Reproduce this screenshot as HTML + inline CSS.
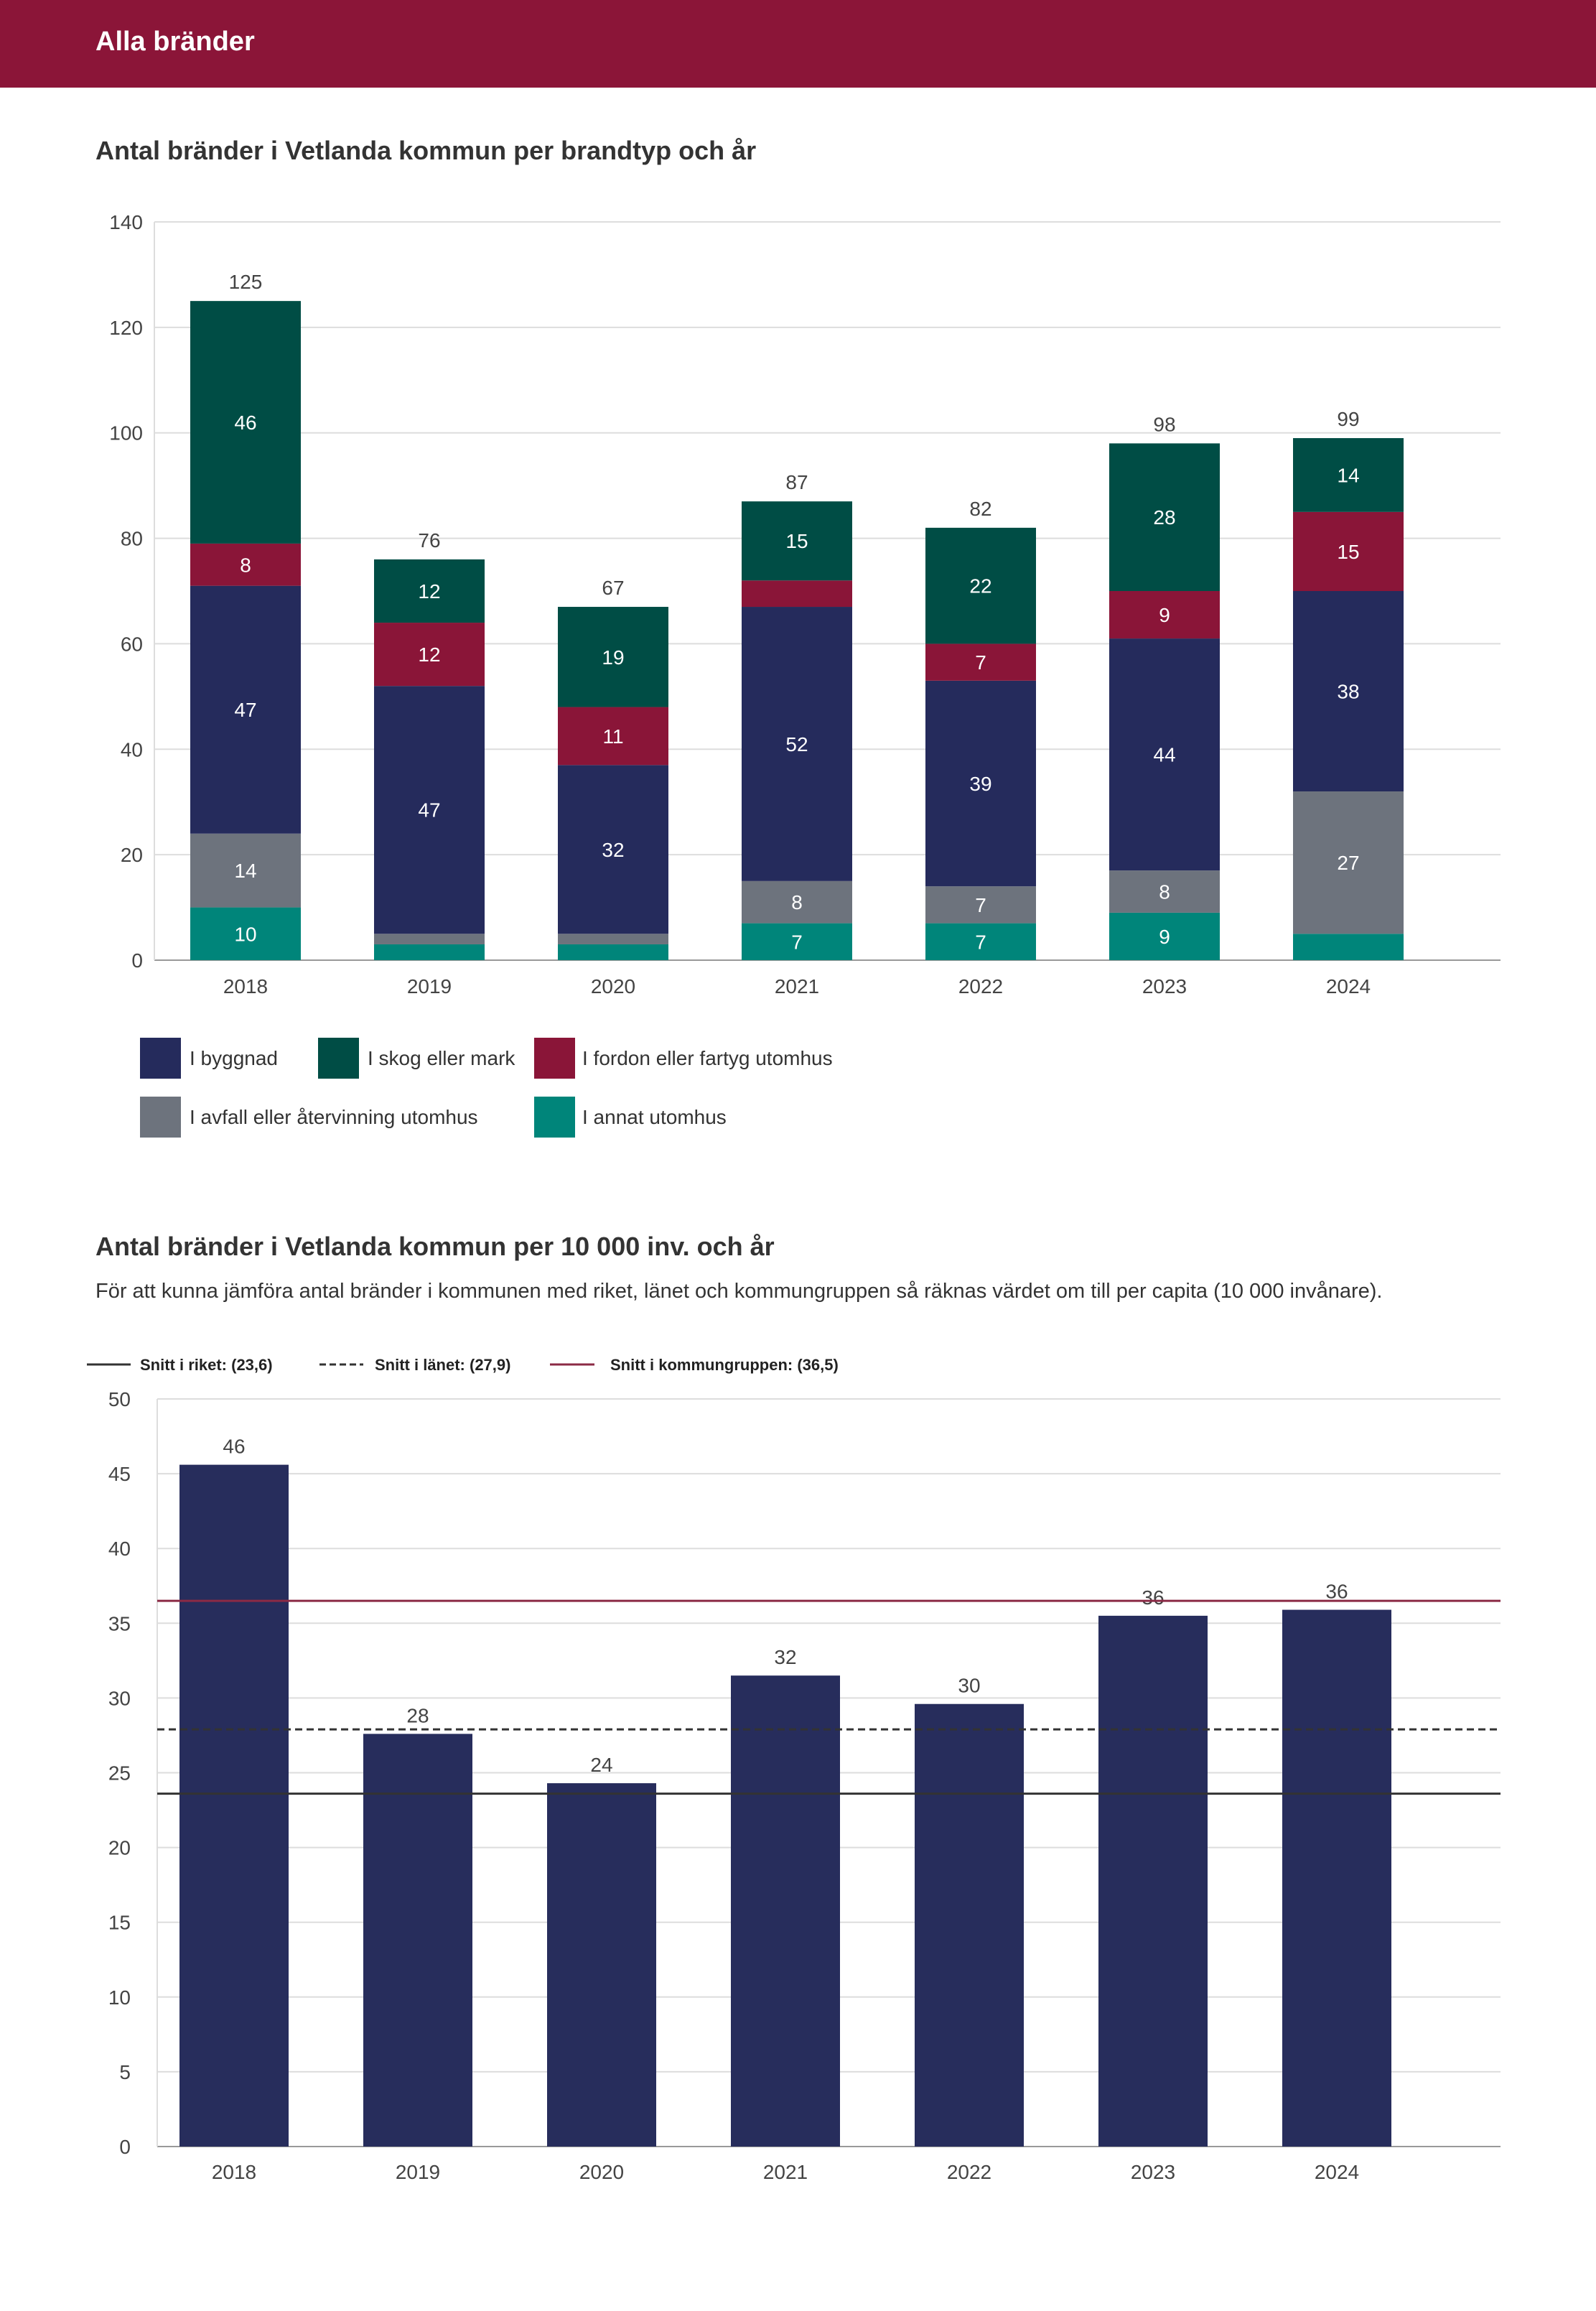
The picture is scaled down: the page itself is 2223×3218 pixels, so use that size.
<!DOCTYPE html>
<html><head><meta charset="utf-8"><style>
html,body{margin:0;padding:0;background:#fff;}
body{width:2223px;height:3213px;overflow:hidden;font-family:"Liberation Sans",sans-serif;}
svg text{font-family:"Liberation Sans",sans-serif;}
</style></head><body>
<svg id="page" width="2223" height="3213" xmlns="http://www.w3.org/2000/svg">
<rect x="0" y="0" width="2223" height="122" fill="#8b1538"/>
<text x="133" y="70" font-size="38" font-weight="bold" fill="#fff">Alla bränder</text>
<text x="133" y="222" font-size="36" font-weight="bold" fill="#333">Antal bränder i Vetlanda kommun per brandtyp och år</text>
<g id="c1"></g>
<g>
<rect x="195" y="1445" width="57" height="57" fill="#252b5c"/>
<text x="264" y="1483" font-size="28" fill="#333">I byggnad</text>
<rect x="443" y="1445" width="57" height="57" fill="#004d45"/>
<text x="512" y="1483" font-size="28" fill="#333">I skog eller mark</text>
<rect x="744" y="1445" width="57" height="57" fill="#8a1538"/>
<text x="811" y="1483" font-size="28" fill="#333">I fordon eller fartyg utomhus</text>
<rect x="195" y="1527" width="57" height="57" fill="#6d737d"/>
<text x="264" y="1565" font-size="28" fill="#333">I avfall eller återvinning utomhus</text>
<rect x="744" y="1527" width="57" height="57" fill="#00857a"/>
<text x="811" y="1565" font-size="28" fill="#333">I annat utomhus</text>
</g>
<text x="133" y="1748" font-size="36" font-weight="bold" fill="#333">Antal bränder i Vetlanda kommun per 10 000 inv. och år</text>
<text x="133" y="1807" font-size="29" fill="#333">För att kunna jämföra antal bränder i kommunen med riket, länet och kommungruppen så räknas värdet om till per capita (10 000 invånare).</text>
<g>
<line x1="121" y1="1900" x2="182" y2="1900" stroke="#333" stroke-width="3"/>
<text x="195" y="1908" font-size="22" font-weight="bold" fill="#222">Snitt i riket: (23,6)</text>
<line x1="445" y1="1900" x2="506" y2="1900" stroke="#333" stroke-width="3" stroke-dasharray="9,5"/>
<text x="522" y="1908" font-size="22" font-weight="bold" fill="#222">Snitt i länet: (27,9)</text>
<line x1="766" y1="1900" x2="828" y2="1900" stroke="#8b2a45" stroke-width="3"/>
<text x="850" y="1908" font-size="22" font-weight="bold" fill="#222">Snitt i kommungruppen: (36,5)</text>
</g>
<g id="c2"></g>
</svg>
<script>
const years = ["2018","2019","2020","2021","2022","2023","2024"];
const annat = [10,3,3,7,7,9,5];
const avfall = [14,2,2,8,7,8,27];
const byggnad = [47,47,32,52,39,44,38];
const fordon = [8,12,11,5,7,9,15];
const skog = [46,12,19,15,22,28,14];
const yTicks1 = [0,20,40,60,80,100,120,140];
const perCapita = [45.6,27.6,24.3,31.5,29.6,35.5,35.9];
const perCapitaLabels = ["46","28","24","32","30","36","36"];
const yTicks2 = [0,5,10,15,20,25,30,35,40,45,50];
const refRiket = [23.6];
const refLanet = [27.9];
const refGrupp = [36.5];

const NS="http://www.w3.org/2000/svg";
function mk(parent,tag,attrs,txt){const e=document.createElementNS(NS,tag);for(const k in attrs)e.setAttribute(k,attrs[k]);if(txt!==undefined)e.textContent=txt;parent.appendChild(e);return e;}

// chart 1
(function(){
const g=document.getElementById('c1');
const x0=215,x1=2090,y0=1337,yTop=309,max=140;
const y=v=>y0-(v/max)*(y0-yTop);
const cx=i=>342+i*256;
const bw=154;
yTicks1.forEach(t=>{
 const l=mk(g,'line',{x1:x0,x2:x1,y1:y(t),y2:y(t),stroke:t===0?'#999':'#ddd','stroke-width':2});
 
 
 const tx=mk(g,'text',{x:199,y:y(t)+10,'font-size':28,fill:'#444','text-anchor':'end'},String(t));
 
 
});
const ax=mk(g,'line',{x1:x0,x2:x0,y1:yTop,y2:y0,stroke:'#ddd','stroke-width':2});


const series=[[annat,'#00857a','annat'],[avfall,'#6d737d','avfall'],[byggnad,'#252b5c','byggnad'],[fordon,'#8a1538','fordon'],[skog,'#004d45','skog']];
years.forEach((yr,i)=>{
 let acc=0;
 series.forEach(([arr,col,nm])=>{
  const v=arr[i];const top=y(acc+v),bot=y(acc);
  const r=mk(g,'rect',{x:cx(i)-bw/2,y:top,width:bw,height:bot-top,fill:col});
  
  
  if(v>=6){
   const t=mk(g,'text',{x:cx(i),y:(top+bot)/2+10,'font-size':28,fill:'#fff','text-anchor':'middle'},String(v));
   
   
  }
  acc+=v;
 });
 const tt=mk(g,'text',{x:cx(i),y:y(acc)-17,'font-size':28,fill:'#444','text-anchor':'middle'},String(acc));
 
 
 const xl=mk(g,'text',{x:cx(i),y:1383,'font-size':28,fill:'#444','text-anchor':'middle'},yr);
 
 
});
})();

// chart 2
(function(){
const g=document.getElementById('c2');
const x0=219,x1=2090,y0=2989,yTop=1948,max=50;
const y=v=>y0-(v/max)*(y0-yTop);
const cx=i=>326+i*256;
const bw=152;
yTicks2.forEach(t=>{
 const l=mk(g,'line',{x1:x0,x2:x1,y1:y(t),y2:y(t),stroke:t===0?'#999':'#ddd','stroke-width':2});
 
 
 const tx=mk(g,'text',{x:182,y:y(t)+10,'font-size':28,fill:'#444','text-anchor':'end'},String(t));
 
 
});
const ax=mk(g,'line',{x1:x0,x2:x0,y1:yTop,y2:y0,stroke:'#ddd','stroke-width':2});


years.forEach((yr,i)=>{
 const v=perCapita[i];
 const r=mk(g,'rect',{x:cx(i)-bw/2,y:y(v),width:bw,height:y0-y(v),fill:'#272d5c'});
 
 
 const t=mk(g,'text',{x:cx(i),y:y(v)-16,'font-size':28,fill:'#444','text-anchor':'middle'},perCapitaLabels[i]);
 
 
 const xl=mk(g,'text',{x:cx(i),y:3034,'font-size':28,fill:'#444','text-anchor':'middle'},yr);
 
 
});
const l1=mk(g,'line',{x1:x0,x2:x1,y1:y(refRiket[0]),y2:y(refRiket[0]),stroke:'#333','stroke-width':3});


const l2=mk(g,'line',{x1:x0,x2:x1,y1:y(refLanet[0]),y2:y(refLanet[0]),stroke:'#333','stroke-width':3,'stroke-dasharray':'10,6'});


const l3=mk(g,'line',{x1:x0,x2:x1,y1:y(refGrupp[0]),y2:y(refGrupp[0]),stroke:'#8b2a45','stroke-width':3});


})();
</script>
</body></html>
